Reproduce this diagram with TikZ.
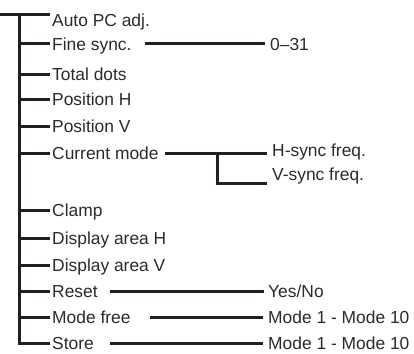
\documentclass[tikz,border=0pt]{standalone}
\usepackage{fontspec}
\setmainfont{Liberation Sans}
\definecolor{ln}{HTML}{231F20}
\definecolor{txt}{HTML}{2A2A2A}
\tikzset{
  lbl/.style={anchor=base west, inner sep=0pt, font=\fontsize{17.4}{19}\selectfont, text=txt},
  wire/.style={line width=3pt, draw=ln, line cap=butt, line join=miter}
}
\begin{document}
\begin{tikzpicture}[x=1pt,y=-1pt]
\useasboundingbox (0,0) rectangle (414,353);
% left labels
\node[lbl] (a) at (52,27) {Auto PC adj.};
\node[lbl] (b) at (52,50) {Fine sync.};
\node[lbl] (c) at (52,80) {Total dots};
\node[lbl] (d) at (52,105) {Position H};
\node[lbl] (e) at (52,132) {Position V};
\node[lbl] (f) at (52,159) {Current mode};
\node[lbl] (g) at (52,216) {Clamp};
\node[lbl] (h) at (52,244) {Display area H};
\node[lbl] (i) at (52,271) {Display area V};
\node[lbl] (j) at (52,297) {Reset};
\node[lbl] (k) at (52,323) {Mode free};
\node[lbl] (l) at (52,349) {Store};
% right labels
\node[lbl] (b1) at (270,50) {0–31};
\node[lbl] (f1) at (272,156) {H-sync freq.};
\node[lbl] (f2) at (272,180) {V-sync freq.};
\node[lbl] (j1) at (268,297) {Yes/No};
\node[lbl] (k1) at (268,323) {Mode 1 - Mode 10};
\node[lbl] (l1) at (268,349) {Mode 1 - Mode 10};
% trunk
\coordinate (top0) at (0,15);
\coordinate (ta) at (19,15);
\coordinate (tb) at (19,44);
\coordinate (tc) at (19,74);
\coordinate (td) at (19,99);
\coordinate (te) at (19,126);
\coordinate (tf) at (19,153);
\coordinate (tg) at (19,210);
\coordinate (th) at (19,238);
\coordinate (ti) at (19,265);
\coordinate (tj) at (19,291);
\coordinate (tk) at (19,317);
\coordinate (tl) at (19,343);
\draw[wire] (top0) -- ([xshift=-2pt]a.west |- top0);
\draw[wire] ([xshift=-2pt]l.west |- tl) -- (tl) -- (ta);
\foreach \t/\n in {tb/b,tc/c,td/d,te/e,tf/f,tg/g,th/h,ti/i,tj/j,tk/k}
  \draw[wire] (\t) -- ([xshift=-2pt]\n.west |- \t);
% right connectors
\coordinate (sb) at (145,44);
\coordinate (sf) at (165,153);
\coordinate (sub) at (217,153);
\coordinate (subb) at (217,183);
\coordinate (sj) at (110,291);
\coordinate (sk) at (150,317);
\coordinate (sl) at (110,343);
\draw[wire] (sb) -- ([xshift=-5pt]b1.west |- sb);
\draw[wire] (sf) -- ([xshift=-5pt]f1.west |- sf);
\draw[wire] (sub) -- (subb) -- ([xshift=-5pt]f2.west |- subb);
\draw[wire] (sj) -- ([xshift=-4pt]j1.west |- sj);
\draw[wire] (sk) -- ([xshift=-5pt]k1.west |- sk);
\draw[wire] (sl) -- ([xshift=-5pt]l1.west |- sl);
\end{tikzpicture}
\end{document}
